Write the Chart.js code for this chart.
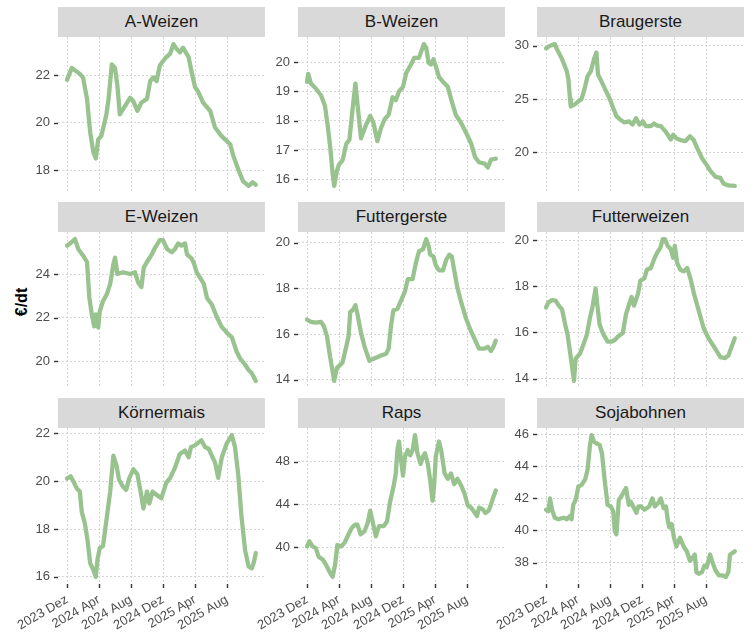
<!DOCTYPE html>
<html><head><meta charset="utf-8">
<script src="https://cdn.jsdelivr.net/npm/chart.js@4/dist/chart.umd.min.js"></script>
<style>
body{margin:0;background:#fff;width:753px;height:632px;overflow:hidden;position:relative;font-family:"Liberation Sans",Arial,sans-serif}
.strip{position:absolute;background:#d9d9d9;color:#1a1a1a;font-size:17px;text-align:center;line-height:30px;height:30px}
.pane{position:absolute}
#ylab{position:absolute;left:22px;top:302px;transform:translate(-50%,-50%) rotate(-90deg);font-weight:bold;font-size:16px;color:#000;white-space:nowrap}
</style></head><body>
<div id="ylab">€/dt</div>
<script>
// x axis: months after 2023 Dez
const xTickMonths = [0, 4, 8, 12, 16, 20];
const xTickLabels = ['2023 Dez', '2024 Apr', '2024 Aug', '2024 Dez', '2025 Apr', '2025 Aug'];
const panelNames = ['A-Weizen','B-Weizen','Braugerste','E-Weizen','Futtergerste','Futterweizen','Körnermais','Raps','Sojabohnen'];

// [month, €/dt]
const aWeizen = [[0,21.8],[0.6,22.3],[1.6,22.05],[2.0,21.9],[2.5,21.0],[2.9,19.6],[3.3,18.75],[3.6,18.5],[3.9,19.3],[4.3,19.45],[4.9,20.3],[5.2,21.0],[5.6,22.45],[6.0,22.3],[6.3,21.55],[6.6,20.35],[7.25,20.7],[7.9,21.05],[8.3,20.9],[8.8,20.5],[9.3,20.85],[10.0,21.0],[10.4,21.75],[10.8,21.9],[11.2,21.75],[11.6,22.4],[12.25,22.7],[12.9,22.9],[13.3,23.3],[13.7,23.1],[14.1,22.95],[14.5,23.15],[15.2,22.75],[15.6,22.1],[16.0,21.5],[16.4,21.3],[17.0,20.85],[17.9,20.5],[18.5,19.8],[19.3,19.45],[20.4,19.1],[20.8,18.6],[21.4,18.05],[22.0,17.55],[22.7,17.35],[23.2,17.5],[23.6,17.4]];
const bWeizen = [[0,19.33],[0.15,19.6],[0.5,19.27],[1.1,19.1],[1.75,18.87],[2.25,18.5],[2.6,17.8],[2.9,17.1],[3.2,16.2],[3.4,15.77],[3.75,16.3],[4.0,16.5],[4.45,16.65],[4.9,17.2],[5.3,17.35],[5.7,18.4],[6.05,19.27],[6.3,18.6],[6.75,17.4],[7.4,17.87],[7.9,18.16],[8.3,17.93],[8.8,17.3],[9.25,17.75],[9.7,18.05],[10.2,18.2],[10.7,18.8],[11.1,18.7],[11.5,19.0],[12.0,19.16],[12.4,19.63],[13.0,19.92],[13.4,20.15],[14.0,20.15],[14.6,20.62],[14.9,20.5],[15.2,19.98],[15.5,19.92],[15.8,20.1],[16.1,19.86],[16.5,19.5],[17.0,19.33],[17.6,19.16],[18.0,18.75],[18.6,18.2],[19.25,17.93],[19.9,17.58],[20.5,17.23],[21.0,16.76],[21.5,16.58],[22.2,16.53],[22.6,16.4],[23.0,16.67],[23.6,16.7]];
const braugerste = [[0,29.75],[0.5,30.0],[1.1,30.15],[1.35,29.7],[2.0,28.75],[2.6,27.6],[2.8,26.85],[3.0,25.0],[3.1,24.3],[3.6,24.5],[4.1,24.8],[4.45,25.0],[4.8,25.9],[5.2,27.15],[5.6,27.6],[6.0,28.75],[6.3,29.35],[6.5,27.3],[6.9,26.7],[7.4,25.9],[8.0,24.95],[8.4,24.15],[8.8,23.4],[9.3,23.05],[9.8,22.8],[10.4,22.9],[10.8,22.6],[11.25,23.2],[11.7,22.6],[12.1,22.9],[12.5,22.45],[13.1,22.45],[13.5,22.7],[13.9,22.5],[14.35,22.45],[15.0,21.9],[15.6,21.2],[15.9,21.65],[16.3,21.3],[16.8,21.15],[17.45,21.05],[18.0,21.5],[18.5,21.1],[18.9,20.4],[19.5,19.45],[20.1,18.8],[20.5,18.3],[21.2,17.7],[21.8,17.6],[22.2,17.05],[22.8,16.9],[23.6,16.85]];
const eWeizen = [[0,25.3],[0.4,25.4],[1.0,25.6],[1.4,25.15],[2.0,24.85],[2.5,24.55],[2.8,22.9],[3.1,22.15],[3.4,21.6],[3.6,22.15],[3.9,21.55],[4.1,22.3],[4.5,22.75],[5.0,23.1],[5.4,23.55],[5.8,24.45],[6.0,24.75],[6.3,24.0],[7.0,24.08],[7.9,24.0],[8.5,24.08],[8.9,23.6],[9.3,23.4],[9.6,24.3],[10.0,24.55],[10.6,24.9],[11.0,25.2],[11.6,25.55],[12.0,25.55],[12.5,25.15],[13.1,25.0],[13.5,25.15],[13.9,25.4],[14.3,25.3],[14.75,25.4],[15.0,24.9],[15.6,24.7],[15.9,24.45],[16.2,24.08],[16.6,23.85],[17.1,23.55],[17.5,22.9],[18.1,22.6],[18.7,22.05],[19.3,21.6],[20.0,21.3],[20.6,21.1],[21.2,20.45],[21.6,20.15],[22.25,19.85],[22.7,19.6],[23.1,19.45],[23.6,19.1]];
const futtergerste = [[0,16.63],[0.5,16.53],[1.1,16.5],[1.75,16.53],[2.1,16.35],[2.5,15.9],[2.9,14.98],[3.2,14.38],[3.4,13.95],[3.75,14.53],[4.0,14.6],[4.45,14.76],[4.9,15.44],[5.2,15.9],[5.4,16.96],[5.7,17.04],[6.05,17.26],[6.3,16.88],[6.75,16.05],[7.2,15.44],[7.8,14.83],[8.2,14.9],[8.75,14.98],[9.25,15.06],[9.9,15.14],[10.2,15.36],[10.5,16.35],[10.8,17.04],[11.3,17.1],[11.8,17.5],[12.25,17.87],[12.6,18.4],[13.2,18.4],[13.6,19.09],[14.0,19.62],[14.5,19.7],[14.9,20.15],[15.2,19.85],[15.4,19.47],[15.8,19.39],[16.1,19.0],[16.5,18.78],[17.0,18.78],[17.4,19.24],[17.8,19.47],[18.1,19.39],[18.4,18.78],[18.8,18.02],[19.25,17.42],[19.9,16.66],[20.5,16.12],[21.1,15.67],[21.5,15.36],[22.2,15.36],[22.6,15.44],[23.0,15.26],[23.3,15.44],[23.6,15.71]];
const futterweizen = [[0,17.08],[0.3,17.3],[0.75,17.4],[1.2,17.38],[1.6,17.16],[2.0,17.0],[2.4,16.34],[2.7,15.9],[3.0,15.16],[3.3,14.41],[3.5,13.9],[3.7,14.86],[4.25,15.08],[4.65,15.45],[5.1,15.9],[5.5,16.64],[5.8,17.08],[6.2,17.9],[6.4,17.23],[6.7,16.34],[7.1,15.97],[7.7,15.6],[8.2,15.6],[8.6,15.67],[9.0,15.82],[9.6,15.97],[10.0,16.79],[10.4,17.23],[10.7,17.53],[11.0,17.16],[11.5,17.67],[11.8,18.24],[12.3,18.34],[12.6,18.71],[13.1,18.79],[13.5,19.16],[13.9,19.45],[14.3,19.67],[14.6,20.04],[14.85,20.04],[15.2,19.75],[15.6,19.6],[15.9,19.23],[16.1,19.75],[16.4,19.0],[16.8,18.71],[17.2,18.64],[17.65,18.79],[18.1,18.27],[18.5,17.67],[19.1,16.93],[19.7,16.19],[20.3,15.75],[21.0,15.38],[21.4,15.16],[21.8,14.93],[22.4,14.89],[22.8,15.0],[23.2,15.38],[23.6,15.75]];
const koernermais = [[0,20.11],[0.45,20.21],[0.8,20.0],[1.2,19.71],[1.6,19.57],[1.85,18.71],[2.25,18.21],[2.55,17.57],[2.9,16.57],[3.3,16.29],[3.6,16.0],[3.8,16.71],[4.1,17.21],[4.5,17.29],[4.95,18.43],[5.4,19.57],[5.8,21.07],[6.2,20.64],[6.5,20.07],[6.95,19.79],[7.4,19.64],[7.8,20.14],[8.3,20.5],[8.8,20.29],[9.2,19.57],[9.55,18.86],[10.0,19.57],[10.3,19.07],[10.7,19.57],[11.2,19.43],[11.8,19.29],[12.4,19.93],[12.9,20.14],[13.5,20.57],[14.1,21.14],[14.75,21.29],[15.2,21.0],[15.5,21.43],[16.0,21.5],[16.5,21.64],[16.8,21.71],[17.25,21.43],[17.7,21.36],[18.1,21.07],[18.5,20.79],[18.9,20.14],[19.35,21.0],[19.95,21.57],[20.6,21.93],[21.0,21.43],[21.4,20.29],[21.8,18.57],[22.25,17.14],[22.7,16.43],[23.1,16.36],[23.35,16.6],[23.6,17.0]];
const raps = [[0,40.06],[0.3,40.54],[0.7,40.06],[1.1,39.9],[1.45,39.1],[2.0,38.8],[2.4,38.3],[2.8,37.7],[3.2,37.2],[3.5,38.3],[3.8,40.2],[4.25,40.06],[4.7,40.4],[5.2,41.2],[5.6,41.8],[6.0,42.1],[6.3,42.1],[6.7,41.2],[7.2,41.5],[7.6,42.3],[7.9,43.4],[8.2,42.4],[8.6,41.0],[9.0,41.97],[9.6,41.97],[10.0,42.4],[10.4,44.3],[10.8,45.6],[11.1,46.9],[11.3,49.1],[11.5,49.9],[11.75,48.2],[12.0,46.7],[12.25,48.5],[12.6,49.1],[12.9,48.6],[13.2,49.1],[13.5,50.5],[13.8,48.8],[14.2,47.8],[14.5,48.5],[14.75,48.8],[15.1,47.8],[15.4,46.25],[15.7,44.35],[15.9,45.9],[16.1,48.5],[16.5,49.9],[16.8,48.95],[17.2,46.9],[17.6,46.4],[18.0,46.9],[18.4,45.9],[18.8,46.4],[19.25,45.8],[19.7,45.0],[20.1,43.9],[20.5,43.7],[20.8,43.4],[21.25,42.9],[21.5,43.7],[21.95,43.55],[22.3,43.2],[22.7,43.4],[23.0,44.0],[23.3,44.7],[23.6,45.3]];
const sojabohnen = [[0,41.3],[0.3,41.2],[0.5,42.0],[0.75,41.3],[1.1,40.8],[1.55,40.7],[2.2,40.8],[2.6,40.7],[3.0,40.9],[3.2,40.7],[3.4,41.6],[3.7,41.9],[4.05,42.75],[4.45,42.85],[4.9,43.2],[5.2,43.8],[5.5,45.35],[5.7,45.96],[6.0,45.55],[6.3,45.45],[6.7,45.35],[7.0,44.8],[7.3,43.3],[7.7,41.6],[8.1,41.5],[8.4,41.2],[8.6,39.97],[8.8,39.76],[9.1,41.9],[9.5,42.2],[10.0,42.65],[10.35,41.6],[10.6,41.8],[11.0,41.4],[11.3,41.1],[11.55,41.5],[11.9,41.5],[12.3,41.3],[12.9,41.5],[13.3,42.0],[13.6,41.5],[14.0,41.7],[14.35,42.0],[14.7,41.4],[15.0,41.5],[15.2,40.7],[15.4,40.2],[15.7,40.4],[16.0,39.55],[16.3,39.0],[16.75,39.55],[17.2,39.0],[17.6,38.7],[18.0,38.1],[18.3,38.3],[18.6,38.5],[18.8,37.4],[19.1,37.3],[19.5,37.4],[19.8,37.8],[20.1,37.7],[20.5,38.5],[20.75,38.1],[21.2,37.5],[21.6,37.2],[22.0,37.2],[22.5,37.1],[22.8,37.4],[23.0,38.5],[23.35,38.6],[23.6,38.7]];

// y tick labels per panel
const aWeizenTicks = [18, 20, 22];
const bWeizenTicks = [16, 17, 18, 19, 20];
const braugersteTicks = [20, 25, 30];
const eWeizenTicks = [20, 22, 24];
const futtergersteTicks = [14, 16, 18, 20];
const futterweizenTicks = [14, 16, 18, 20];
const koernermaisTicks = [16, 18, 20, 22];
const rapsTicks = [40, 44, 48];
const sojabohnenTicks = [38, 40, 42, 44, 46];

const seriesList = [aWeizen, bWeizen, braugerste, eWeizen, futtergerste, futterweizen, koernermais, raps, sojabohnen];
const tickList = [aWeizenTicks, bWeizenTicks, braugersteTicks, eWeizenTicks, futtergersteTicks, futterweizenTicks, koernermaisTicks, rapsTicks, sojabohnenTicks];

// layout
const colLeft = [58, 298, 537], rowTop = [37, 232, 428];
const PW = 207, PH = 156, YW = 58, PR = 8, TM = 10, BM = 10, XH = 50;
const X_MIN = -1.125, X_MAX = 24.75;
const LINE = '#98c38f', GRID = '#d6d6d6', TXT = '#4d4d4d';
const FONT = "'Liberation Sans', Arial, sans-serif";

// short dark axis tick marks, placed with the chart's own scales
const tickMarks = {
  id: 'tickMarks',
  afterDraw(chart, args, opts) {
    const ctx = chart.ctx, a = chart.chartArea;
    ctx.save();
    ctx.strokeStyle = '#333';
    ctx.lineWidth = 1.4;
    const ys = chart.scales.y;
    ys.ticks.forEach(t => {
      const p = Math.round(ys.getPixelForValue(t.value)) + 0.5;
      ctx.beginPath(); ctx.moveTo(a.left - 4, p); ctx.lineTo(a.left, p); ctx.stroke();
    });
    if (opts.bottom) {
      const xs = chart.scales.x;
      xs.ticks.forEach(t => {
        const p = Math.round(xs.getPixelForValue(t.value)) + 0.5;
        ctx.beginPath(); ctx.moveTo(p, a.bottom); ctx.lineTo(p, a.bottom + 4); ctx.stroke();
      });
    }
    ctx.restore();
  }
};

panelNames.forEach((name, i) => {
  const col = i % 3, row = Math.floor(i / 3);
  const strip = document.createElement('div');
  strip.className = 'strip';
  strip.style.left = colLeft[col] + 'px';
  strip.style.top = (rowTop[row] - 30) + 'px';
  strip.style.width = PW + 'px';
  strip.textContent = name;
  document.body.appendChild(strip);
});

panelNames.forEach((name, i) => {
  const col = i % 3, row = Math.floor(i / 3), bottom = row === 2;
  const data = seriesList[i], ticks = tickList[i];
  const W = YW + PW + PR, H = TM + PH + (bottom ? XH : BM);
  const div = document.createElement('div');
  div.className = 'pane';
  div.style.left = (colLeft[col] - YW) + 'px';
  div.style.top = (rowTop[row] - TM) + 'px';
  div.style.width = W + 'px'; div.style.height = H + 'px';
  const cv = document.createElement('canvas');
  cv.width = W; cv.height = H;
  div.appendChild(cv);
  document.body.appendChild(div);
  const vals = data.map(d => d[1]);
  const lo = Math.min(...vals), hi = Math.max(...vals), pad = (hi - lo) * 0.05;
  new Chart(cv, {
    type: 'line',
    data: { datasets: [{ label: name, data: data.map(d => ({x: d[0], y: d[1]})), borderColor: LINE, borderWidth: 4.3,
      pointRadius: 0, tension: 0, borderJoinStyle: 'round', borderCapStyle: 'round', fill: false }] },
    plugins: [tickMarks],
    options: {
      responsive: false, animation: false, devicePixelRatio: 1,
      layout: { padding: { left: 0, right: PR, top: TM, bottom: bottom ? 0 : BM } },
      plugins: { legend: { display: false }, tooltip: { enabled: false }, tickMarks: { bottom } },
      scales: {
        x: {
          type: 'linear', min: X_MIN, max: X_MAX,
          afterBuildTicks: s => { s.ticks = xTickMonths.map(v => ({value: v})); },
          ticks: { display: bottom, autoSkip: false, minRotation: 30, maxRotation: 30, padding: 8,
            color: TXT, font: { size: 13, family: FONT },
            callback: v => xTickLabels[xTickMonths.indexOf(v)] },
          grid: { color: GRID, lineWidth: 1, drawTicks: false },
          border: { display: false, dash: [2, 2] },
          afterFit: s => { s.paddingLeft = 0; s.paddingRight = 0; s.height = bottom ? XH : 0; }
        },
        y: {
          type: 'linear', min: lo - pad, max: hi + pad,
          afterBuildTicks: s => { s.ticks = ticks.map(v => ({value: v})); },
          ticks: { color: TXT, font: { size: 13, family: FONT }, padding: 8 },
          grid: { color: GRID, lineWidth: 1, drawTicks: false },
          border: { display: false, dash: [2, 2] },
          afterFit: s => { s.width = YW; s.paddingTop = 0; s.paddingBottom = 0; }
        }
      }
    }
  });
});
</script>
</body></html>
